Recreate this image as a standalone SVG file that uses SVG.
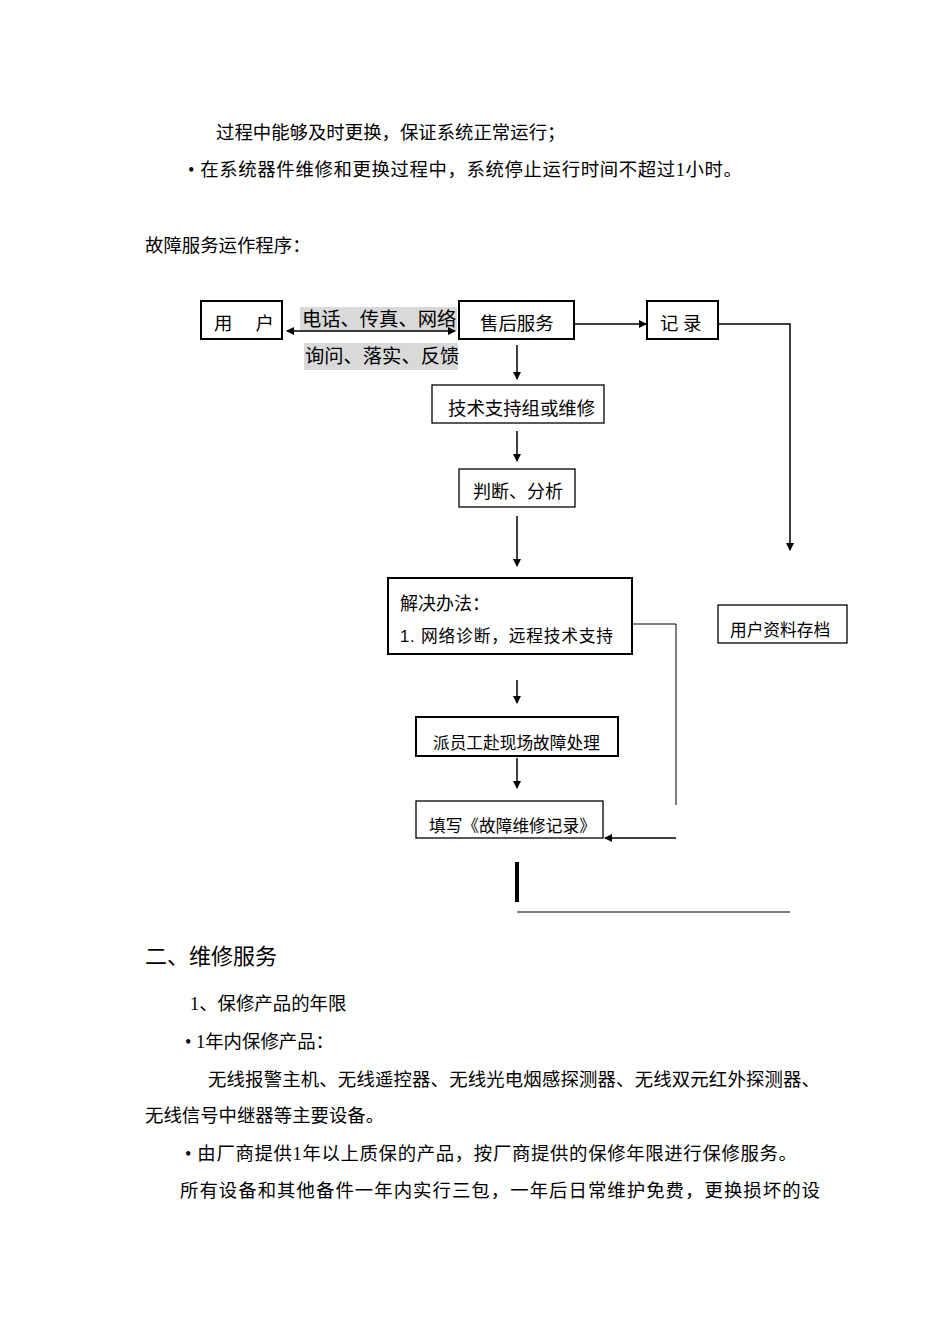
<svg xmlns="http://www.w3.org/2000/svg" width="950" height="1344" viewBox="0 0 950 1344">
<style>
text{font-family:"Liberation Serif","Noto Sans CJK SC",serif;font-size:18.4px;fill:#000}
.s{font-family:"Liberation Sans","Noto Sans CJK SC",sans-serif;font-size:16.7px}
.b{fill:#fff;stroke:#000;stroke-width:2}
.t{fill:#fff;stroke:#000;stroke-width:1.3}
.l{stroke:#000;stroke-width:1.5;fill:none}
</style>
<defs><marker id="a" markerWidth="8" markerHeight="8" refX="7" refY="4" orient="auto" markerUnits="userSpaceOnUse"><path d="M0,0L8,4L0,8z" fill="#000"/></marker>
<marker id="a2" markerWidth="8" markerHeight="8" refX="1" refY="4" orient="auto" markerUnits="userSpaceOnUse"><path d="M8,0L0,4L8,8z" fill="#000"/></marker></defs>
<text x="216" y="139">过程中能够及时更换，保证系统正常运行；</text>
<text x="188" y="176" textLength="554" lengthAdjust="spacing">• 在系统器件维修和更换过程中，系统停止运行时间不超过1小时。</text>
<text x="145" y="252">故障服务运作程序：</text>
<rect x="300" y="307" width="157" height="24" fill="#d9d9d9"/>
<rect x="304" y="343" width="154" height="27" fill="#d9d9d9"/>
<text x="302" y="326" style="font-size:19.3px">电话、传真、网络</text>
<text x="305" y="363" style="font-size:19.3px">询问、落实、反馈</text>
<g id="connectors">
<line class="l" x1="287" y1="331" x2="455" y2="331" marker-start="url(#a2)" marker-end="url(#a)"/>
<line class="l" x1="574" y1="324" x2="646" y2="324" marker-end="url(#a)"/>
<polyline class="l" points="718,324 790,324 790,550" marker-end="url(#a)"/>
<line class="l" x1="517" y1="345" x2="517" y2="379" marker-end="url(#a)"/>
<line class="l" x1="517" y1="431" x2="517" y2="461" marker-end="url(#a)"/>
<line class="l" x1="517" y1="516" x2="517" y2="566" marker-end="url(#a)"/>
<polyline class="l" points="632,624 676,624 676,805" style="stroke-width:1"/>
<line class="l" x1="517" y1="680" x2="517" y2="703" marker-end="url(#a)"/>
<line class="l" x1="517" y1="758" x2="517" y2="788" marker-end="url(#a)"/>
<line class="l" x1="676" y1="838" x2="605" y2="838" marker-end="url(#a)"/>
<line x1="517" y1="862" x2="517" y2="902" stroke="#000" stroke-width="4"/>
<line x1="517" y1="912" x2="790" y2="912" stroke="#555" stroke-width="1.5"/>
</g>
<g id="n1"><rect class="b" x="201" y="301" width="81" height="38"/><text x="214" y="330">用　 户</text></g>
<g id="n2"><rect class="b" x="459" y="301" width="115" height="38"/><text x="480" y="330">售后服务</text></g>
<g id="n3"><rect class="b" x="647" y="301" width="71" height="38"/><text x="660" y="330">记 录</text></g>
<g id="n4"><rect class="t" x="432" y="385" width="172" height="38"/><text x="448" y="415">技术支持组或维修</text></g>
<g id="n5"><rect class="t" x="459" y="469" width="116" height="38"/><text x="473" y="498" class="s" style="font-size:18px">判断、分析</text></g>
<g id="n6"><rect class="b" x="388" y="578" width="244" height="76"/><text x="400" y="610" style="font-size:18px">解决办法：</text><text x="400" y="642" class="s" textLength="213" lengthAdjust="spacing">1.  网络诊断，远程技术支持</text></g>
<g id="n7"><rect class="t" x="718" y="605" width="129" height="38"/><text x="730" y="636" class="s">用户资料存档</text></g>
<g id="n8"><rect class="b" x="416" y="717" width="202" height="39"/><text x="433" y="749" class="s">派员工赴现场故障处理</text></g>
<g id="n9"><rect class="t" x="416" y="801" width="187" height="37"/><text x="429" y="832" class="s">填写《故障维修记录》</text></g>
<text x="145" y="964" style="font-size:22px">二、维修服务</text>
<text x="190" y="1010">1、保修产品的年限</text>
<text x="185" y="1048">• 1年内保修产品：</text>
<text x="208" y="1086" textLength="612" lengthAdjust="spacing">无线报警主机、无线遥控器、无线光电烟感探测器、无线双元红外探测器、</text>
<text x="145" y="1122">无线信号中继器等主要设备。</text>
<text x="185" y="1160" textLength="612" lengthAdjust="spacing">• 由厂商提供1年以上质保的产品，按厂商提供的保修年限进行保修服务。</text>
<text x="180" y="1197" textLength="640" lengthAdjust="spacing">所有设备和其他备件一年内实行三包，一年后日常维护免费，更换损坏的设</text>
</svg>
